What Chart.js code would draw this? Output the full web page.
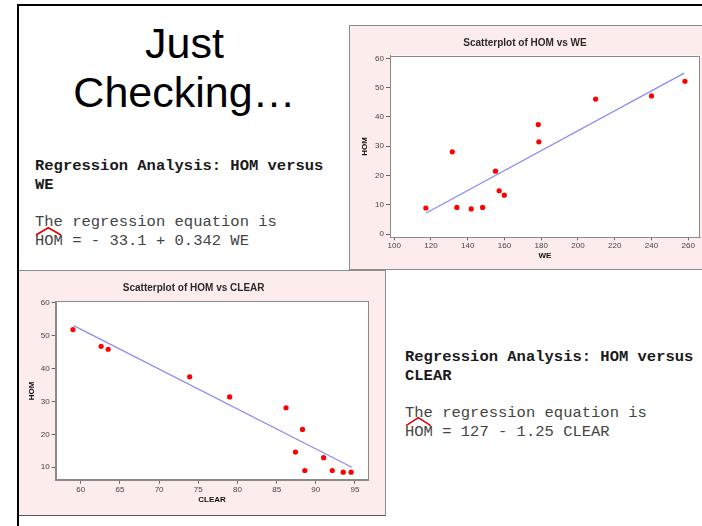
<!DOCTYPE html>
<html><head><meta charset="utf-8">
<script src="https://cdn.jsdelivr.net/npm/chart.js@4/dist/chart.umd.min.js"></script>
<style>
html,body{margin:0;padding:0;background:#fff;width:702px;height:526px;overflow:hidden;position:relative;}
.abs{position:absolute;}
.big{position:absolute;font-family:"Liberation Sans",Arial,sans-serif;font-size:43px;line-height:49px;color:#000;left:19px;width:331px;text-align:center;top:18.6px;}
.mono{position:absolute;font-family:"Liberation Mono","Courier New",monospace;font-size:15.5px;white-space:pre;color:#444;}
.mono b{color:#1a1a1a;}
.panel{position:absolute;background:#fdecec;border:1px solid #8c8c8c;box-sizing:border-box;overflow:hidden;}
.panel canvas{position:absolute;left:0;top:0;}
.frame{position:absolute;left:17px;top:4px;width:720px;height:560px;border-top:2px solid #000;border-left:2.5px solid #000;pointer-events:none;}
</style></head>
<body>
<div class="big">Just<br>Checking…</div>
<div class="mono" style="left:35px;top:157.2px;line-height:18.6px;"><b>Regression Analysis: HOM versus
WE</b></div>
<div class="mono" style="left:35px;top:213.2px;line-height:18.6px;">The regression equation is
HOM = - 33.1 + 0.342 WE</div>
<div class="mono" style="left:405px;top:348.2px;line-height:19px;"><b>Regression Analysis: HOM versus
CLEAR</b></div>
<div class="mono" style="left:405px;top:404.2px;line-height:19px;">The regression equation is
HOM = 127 - 1.25 CLEAR</div>
<svg class="abs" style="left:0;top:0" width="702" height="526">
  <polyline points="36,235 48.3,227.7 61,235" fill="none" stroke="#e00000" stroke-width="1.6"/>
  <polyline points="406,425.7 418.3,417.7 430.7,425.7" fill="none" stroke="#e00000" stroke-width="1.6"/>
</svg>
<div class="panel" style="left:349px;top:25px;width:370px;height:245px;"><canvas id="c1" width="366" height="243"></canvas></div>
<div class="panel" style="left:18px;top:270px;width:368px;height:246px;border-bottom-color:#555;"><canvas id="c2" width="366" height="244"></canvas></div>
<div class="frame"></div>
<script>
// ---- data: HOM vs WE ----
const weValues = [117.2,131.6,134.1,141.9,148.1,155.1,157.1,159.9,178.4,178.7,209.6,240.0,258.2];
const weHom    = [8.9,28.1,9.1,8.6,9.1,21.5,14.8,13.3,37.4,31.5,46.1,47.2,52.2];
const weFitX   = [117.4,257.8];
const weFitY   = [7.2,55.0];
const weXTicks = [100,120,140,160,180,200,220,240,260];
const weYTicks = [0,10,20,30,40,50,60];
// ---- data: HOM vs CLEAR ----
const clearValues = [59.0,62.6,63.5,73.9,79.0,86.2,88.3,87.4,91.0,88.6,92.1,93.5,94.5];
const clearHom    = [51.9,46.8,45.9,37.5,31.4,28.1,21.5,14.6,12.9,9.0,9.0,8.5,8.5];
const clearFitX   = [59.1,94.6];
const clearFitY   = [53.1,10.0];
const clearXTicks = [60,65,70,75,80,85,90,95];
const clearYTicks = [10,20,30,40,50,60];

const SANS = '"Liberation Sans", Arial, sans-serif';

const framePlugin = {
  id: 'plotFrame',
  beforeDraw(chart) {
    const a = chart.chartArea, ctx = chart.ctx;
    ctx.save();
    ctx.fillStyle = '#ffffff';
    ctx.fillRect(a.left, a.top, a.right - a.left, a.bottom - a.top);
    ctx.restore();
  },
  beforeDatasetsDraw(chart) {
    const a = chart.chartArea, ctx = chart.ctx;
    ctx.save();
    ctx.strokeStyle = '#8a8a8a';
    ctx.lineWidth = 1;
    ctx.strokeRect(Math.round(a.left) + 0.5, Math.round(a.top) + 0.5,
                   Math.round(a.right - a.left) - 1, Math.round(a.bottom - a.top) - 1);
    ctx.restore();
  }
};

function makeChart(id, cfg) {
  const pts = cfg.xs.map((x, i) => ({x: x, y: cfg.ys[i]}));
  const fit = cfg.fitX.map((x, i) => ({x: x, y: cfg.fitY[i]}));
  return new Chart(document.getElementById(id), {
    type: 'scatter',
    data: {
      datasets: [
        {data: fit, showLine: true, borderColor: '#8c8cf2', borderWidth: 1.3, pointRadius: 0, fill: false, order: 2},
        {data: pts, backgroundColor: '#ff0000', borderColor: '#ff0000', pointRadius: 2.6, borderWidth: 0, order: 1}
      ]
    },
    options: {
      responsive: false,
      animation: false,
      events: [],
      layout: {padding: {left: 0, right: cfg.padRight, top: 0, bottom: 0}},
      plugins: {
        legend: {display: false},
        tooltip: {enabled: false},
        title: {
          display: true, text: cfg.title, color: '#2a2a2a',
          font: {family: SANS, size: 10, weight: 'bold'},
          padding: {top: cfg.titleTop, bottom: cfg.titleBottom}
        }
      },
      scales: {
        x: {
          type: 'linear', min: cfg.xMin, max: cfg.xMax,
          afterBuildTicks: s => { s.ticks = cfg.xTicks.map(v => ({value: v})); },
          afterFit: s => { s.height = cfg.xAxisH; },
          grid: {drawOnChartArea: false, drawTicks: true, tickLength: 3, color: '#666'},
          border: {display: true, color: '#8a8a8a'},
          ticks: {font: {family: SANS, size: 8}, color: '#444', padding: 1, maxRotation: 0, autoSkip: false},
          title: {display: true, text: cfg.xLabel, color: '#111', font: {family: SANS, size: 8, weight: 'bold'}, padding: {top: 0, bottom: cfg.xTitlePad}}
        },
        y: {
          type: 'linear', min: cfg.yMin, max: cfg.yMax,
          afterBuildTicks: s => { s.ticks = cfg.yTicks.map(v => ({value: v})); },
          afterFit: s => { s.width = cfg.yAxisW; },
          grid: {drawOnChartArea: false, drawTicks: true, tickLength: 4, color: '#666'},
          border: {display: true, color: '#8a8a8a'},
          ticks: {font: {family: SANS, size: 8}, color: '#444', padding: 2, autoSkip: false},
          title: {display: true, text: 'HOM', color: '#111', font: {family: SANS, size: 8, weight: 'bold'}, padding: {top: cfg.yTitlePad, bottom: 0}}
        }
      }
    },
    plugins: [framePlugin]
  });
}

makeChart('c1', {
  xs: weValues, ys: weHom, fitX: weFitX, fitY: weFitY,
  xTicks: weXTicks, yTicks: weYTicks,
  title: 'Scatterplot of HOM vs WE', xLabel: 'WE',
  xMin: 97.7, xMax: 266.4, yMin: -1.1, yMax: 61.0,
  padRight: 16, titleTop: 11, titleBottom: 6.5,
  xAxisH: 31.7, yAxisW: 40, xTitlePad: 8.2, yTitlePad: 10
});
makeChart('c2', {
  xs: clearValues, ys: clearHom, fitX: clearFitX, fitY: clearFitY,
  xTicks: clearXTicks, yTicks: clearYTicks,
  title: 'Scatterplot of HOM vs CLEAR', xLabel: 'CLEAR',
  xMin: 56.8, xMax: 96.7, yMin: 5.9, yMax: 60.5,
  padRight: 16.7, titleTop: 11.7, titleBottom: 6.6,
  xAxisH: 34.3, yAxisW: 36.7, xTitlePad: 10.2, yTitlePad: 8.2
});
</script>
</body></html>
